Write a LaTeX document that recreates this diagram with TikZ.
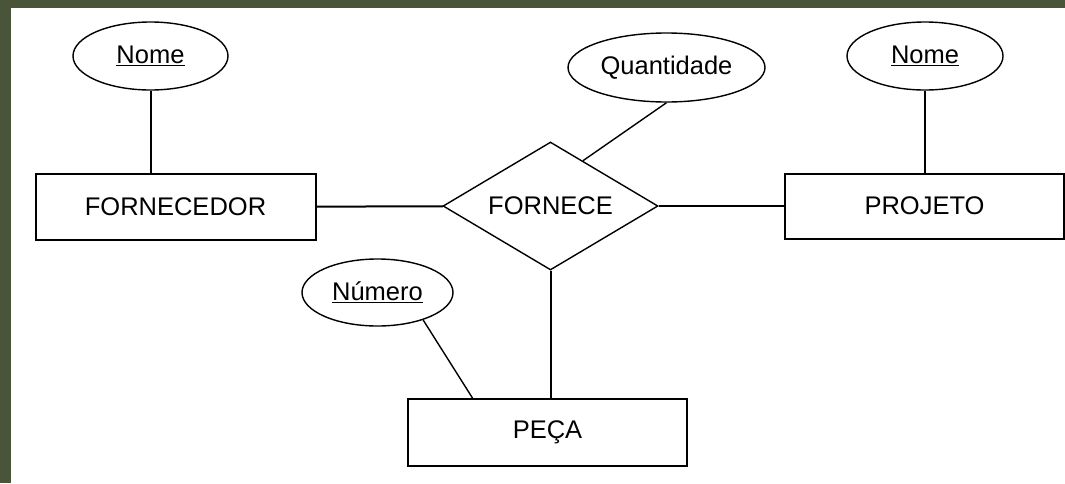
\documentclass[tikz,border=0pt]{standalone}
\usepackage{fontspec}
\setmainfont{Liberation Sans}
\usetikzlibrary{shapes.geometric,calc}
\definecolor{frameolive}{RGB}{74,84,56}

\begin{document}
\begin{tikzpicture}[
        x=1pt, y=-1pt,
        font=\fontsize{25.5}{29}\selectfont,
        entitybox/.style={draw, line width=2pt, minimum width=280pt, minimum height=66pt, inner sep=0pt},
        attrib/.style={draw, ellipse, line width=1.4pt, minimum height=68pt, inner sep=0pt},
        relbox/.style={draw, diamond, aspect=1.68, line width=1.4pt, minimum width=215pt, minimum height=128pt, inner sep=0pt},
        link/.style={line width=2pt},
    ]
        % Frame
        \useasboundingbox (0,0) rectangle (1065,483);
        \fill[frameolive] (0,0) rectangle (1065,483);
        \fill[white] (11,8) rectangle (1065,483);

        % Entities
        \node[entitybox] (fornecedor) at (175.5, 207) {FORNECEDOR};
        \node[entitybox, minimum width=279pt, minimum height=65pt] (projeto) at (924.5, 206) {PROJETO};
        \node[entitybox, minimum width=279pt, minimum height=67pt] (peca) at (547.5, 432.5) {PEÇA};

        % Relationship
        \node[relbox] (fornece) at (550.5, 206) {FORNECE};

        % Attributes
        \node[attrib, minimum width=155pt] (nomeF) at (150.5, 56) {\underline{Nome}};
        \node[attrib, minimum width=156pt] (nomeP) at (925, 56) {\underline{Nome}};
        \node[attrib, minimum width=197pt, minimum height=69pt] (quantidade) at (666.5, 67.5) {Quantidade};
        \node[attrib, minimum width=151pt, minimum height=67pt] (numero) at (377.5, 292.5) {\underline{Número}};

        % Connections
        \draw[link] (fornecedor) -- (fornece);
        \draw[link] (fornece) -- (projeto);
        \draw[link] (fornece.south) -- (fornece.south |- peca.north);
        \draw[link] (nomeF.south) -- (nomeF.south |- fornecedor.north);
        \draw[link] (nomeP.south) -- (nomeP.south |- projeto.north);
        \draw[line width=1.4pt] (quantidade.south) -- ($(fornece.north)!0.3!(fornece.east)$);
        \draw[line width=1.4pt] (numero.-31) -- ($(peca.north west)!0.233!(peca.north east)$);
    \end{tikzpicture}
\end{document}
